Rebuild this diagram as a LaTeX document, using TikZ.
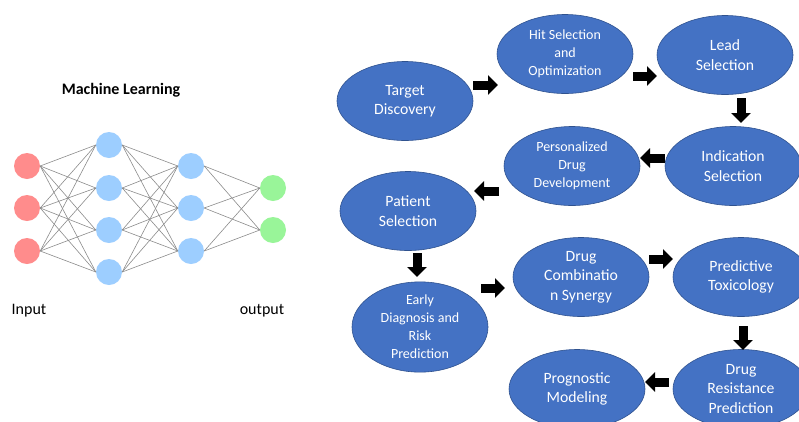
\documentclass[tikz,border=0pt]{standalone}
\usepackage{fontspec}
\setmainfont{Carlito}
\usetikzlibrary{shapes.geometric,arrows.meta}
\definecolor{ellfill}{HTML}{4472C4}
\definecolor{elldraw}{HTML}{2F528F}
\definecolor{nnred}{HTML}{FF8C8C}
\definecolor{nnblue}{HTML}{9DCEFF}
\definecolor{nngreen}{HTML}{99F599}
\definecolor{nnline}{HTML}{8C8C8C}
\tikzset{
  stage/.style={ellipse, fill=ellfill, draw=elldraw, line width=0.6pt, inner sep=0pt,
    minimum width=136pt, minimum height=79pt, text=white, align=center,
    font=\fontsize{15.7}{19.5}\selectfont},
  stagesm/.style={stage, font=\fontsize{14}{18}\selectfont},
  blk/.style={line width=9pt, black, -{Triangle[length=10pt,width=19pt]}},
  neuron/.style={circle, minimum size=26pt, inner sep=0pt},
  syn/.style={nnline, line width=0.6pt},
  lbl/.style={font=\fontsize{16}{19}\selectfont}
}
\begin{document}
\begin{tikzpicture}[x=1pt,y=-1pt]
\clip (0,0) rectangle (799,421);
\fill[white] (0,0) rectangle (799,421);

% neural network
\node[lbl, font=\bfseries\fontsize{16}{19}\selectfont] (title) at (121,90) {Machine Learning};
\foreach \i/\y in {1/166,2/208,3/251} \node[neuron, fill=nnred] (i\i) at (27,\y) {};
\foreach \i/\y in {1/145,2/188,3/230,4/272} \node[neuron, fill=nnblue] (h\i) at (109,\y) {};
\foreach \i/\y in {1/166,2/208,3/251} \node[neuron, fill=nnblue] (k\i) at (191,\y) {};
\foreach \i/\y in {1/188,2/230} \node[neuron, fill=nngreen] (o\i) at (273,\y) {};
\foreach \a in {1,2,3} \foreach \b in {1,2,3,4} \draw[syn] (i\a.east) -- (h\b.west);
\foreach \a in {1,2,3,4} \foreach \b in {1,2,3} \draw[syn] (h\a.east) -- (k\b.west);
\foreach \a in {1,2,3} \foreach \b in {1,2} \draw[syn] (k\a.east) -- (o\b.west);
\node[lbl] (inlbl) at (29,311) {Input};
\node[lbl] (outlbl) at (262,311) {output};

% flow
\node[stage] (td) at (405,101) {Target\\Discovery};
\node[stagesm] (hit) at (565,54) {Hit Selection\\and\\Optimization};
\node[stage] (lead) at (725,55) {Lead\\Selection};
\node[stage] (ind) at (733,166) {Indication\\Selection};
\node[stagesm] (pdd) at (572,166) {Personalized\\Drug\\Development};
\node[stage] (pat) at (408,211) {Patient\\Selection};
\node[stagesm] (early) at (420,327) {Early\\Diagnosis and\\Risk\\Prediction};
\node[stage] (comb) at (581,277) {Drug\\Combinatio\\n Synergy};
\node[stage] (tox) at (741,277) {Predictive\\Toxicology};
\node[stage] (res) at (741,389) {Drug\\Resistance\\Prediction};
\node[stage] (prog) at (577,389) {Prognostic\\Modeling};

\coordinate (a1s) at (473,85);  \coordinate (a1e) at (498,85);
\coordinate (a2s) at (633,76);  \coordinate (a2e) at (657,76);
\coordinate (a3s) at (741,98);  \coordinate (a3e) at (741,123);
\coordinate (a4s) at (665,158); \coordinate (a4e) at (640,158);
\coordinate (a5s) at (499,191); \coordinate (a5e) at (474,191);
\coordinate (a6s) at (417,253); \coordinate (a6e) at (417,277);
\coordinate (a7s) at (481,288); \coordinate (a7e) at (505,288);
\coordinate (a8s) at (649,259); \coordinate (a8e) at (673,259);
\coordinate (a9s) at (743,326); \coordinate (a9e) at (743,350);
\coordinate (a10s) at (669,382); \coordinate (a10e) at (645,382);
\foreach \n in {1,...,10} \draw[blk] (a\n s) -- (a\n e);
\end{tikzpicture}
\end{document}
